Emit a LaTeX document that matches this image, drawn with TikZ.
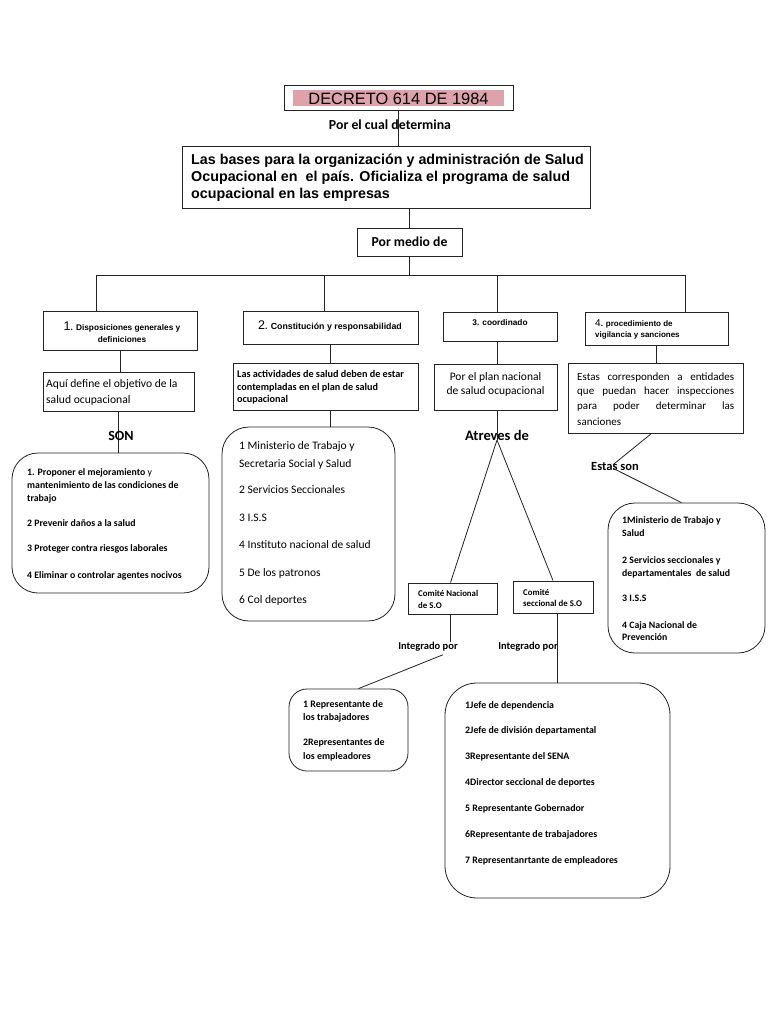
\documentclass[tikz,border=0pt]{standalone}
\usepackage{fontspec}
\setmainfont{Carlito}
\newfontfamily\arial{Liberation Sans}
\usetikzlibrary{fit}
\definecolor{pinkfill}{RGB}{222,163,170}
\definecolor{linec}{RGB}{35,35,35}
\begin{document}
\begin{tikzpicture}[x=1pt,y=-1pt,
  box/.style={draw=linec, line width=0.9pt, rectangle, inner sep=0pt},
  rbox/.style={draw=linec, line width=0.8pt, rectangle, inner sep=0pt, rounded corners=#1},
  conn/.style={draw=linec, line width=0.8pt},
  tl/.style={anchor=base west, inner sep=0pt},
  tc/.style={anchor=base, inner sep=0pt},
  lab/.style={inner sep=0pt, font=\bfseries\fontsize{#1}{#1}\selectfont},
  ttl/.style={anchor=base, inner sep=0pt, font=\arial\bfseries\fontsize{#1}{9}\selectfont},
  ttl/.default=8.3,
  f/.style={font=\fontsize{#1}{#1}\selectfont},
  fb/.style={font=\bfseries\fontsize{#1}{#1}\selectfont}
]
\path[use as bounding box, fill=white] (0,0) rectangle (768,1024);

% ---------- top ----------
\node[box, fit={(284,85)(513,110)}] (dec) {};
\node[fill=pinkfill, inner sep=0pt, fit={(293,90)(504,106)}] (decfill) {};
\node[inner sep=0pt, font=\arial\fontsize{16.4}{16.4}\selectfont] (dectxt) at (398.5,98.5) {DECRETO 614 DE 1984};

\node[box, fit={(182,146)(590,208)}] (bases) {};
\node[tl, font=\arial\bfseries\fontsize{14.3}{14.3}\selectfont] (bt1) at (191,165) {Las bases para la organización y administración de Salud};
\node[tl, font=\arial\bfseries\fontsize{14.3}{14.3}\selectfont] (bt2) at (191,182) {Ocupacional en\ \ el país. Oficializa el programa de salud};
\node[tl, font=\arial\bfseries\fontsize{14.3}{14.3}\selectfont] (bt3) at (191,199) {ocupacional en las empresas};

\draw[conn] (dec.south) -- (dec.south |- bases.north);
\node[lab=13.8] (porcual) at (390,125) {Por el cual determina};

\node[box, fit={(357,228)(462,256)}] (medio) {};
\node[lab=13.7] (mediotxt) at (409.5,242) {Por medio de};
\draw[conn] (medio.north |- bases.south) -- (medio.north);

\coordinate (hL) at (96,275);
\coordinate (h2) at (324,275);
\coordinate (h3) at (497,275);
\coordinate (hR) at (685,275);
\draw[conn] (medio.south) -- (medio.south |- hL);
\draw[conn] (hL) -- (hR);

% ---------- second row ----------
\node[box, fit={(43,311)(197,350)}] (b1) {};
\node[box, fit={(243,311)(418,344)}] (b2) {};
\node[box, fit={(443,312)(557,341)}] (b3) {};
\node[box, fit={(585,312)(728,345)}] (b4) {};
\draw[conn] (hL) -- (hL |- b1.north);
\draw[conn] (h2) -- (h2 |- b2.north);
\draw[conn] (h3) -- (h3 |- b3.north);
\draw[conn] (hR) -- (hR |- b4.north);

\node[ttl] (b1t1) at (122,330) {{\arial\mdseries\fontsize{12.5}{12}\selectfont 1}. Disposiciones generales y};
\node[ttl] (b1t2) at (122,342) {definiciones};
\node[ttl=8.8] (b2t1) at (330,329) {{\arial\mdseries\fontsize{12.5}{12}\selectfont 2}. Constitución y responsabilidad};
\node[ttl=8.3] (b3t1) at (500,325) {3. coordinado};
\node[ttl=8, anchor=base west] (b4t1) at (595,326) {{\arial\mdseries\fontsize{10}{10}\selectfont 4}. procedimiento de};
\node[ttl=8, anchor=base west] (b4t2) at (595,337) {vigilancia y sanciones};

% ---------- third row ----------
\node[box, fit={(43,372)(194,411)}] (a1) {};
\node[box, fit={(233,363)(418,410)}] (a2) {};
\node[box, fit={(434,364)(557,410)}] (a3) {};
\node[box, fit={(568,363)(743,433)}] (a4) {};
\draw[conn] (b1.south) -- (b1.south |- a1.north);
\draw[conn] (b2.south) -- (b2.south |- a2.north);
\draw[conn] (h3 |- b3.south) -- (h3 |- a3.north);
\draw[conn] (b4.south) -- (b4.south |- a4.north);

\node[tl, f=11.6] (a1t1) at (46,387) {Aquí define el objetivo de la};
\node[tl, f=11.6] (a1t2) at (46,403) {salud ocupacional};

\node[tl, fb=10.2] (a2t1) at (237,377.5) {Las actividades de salud deben de estar};
\node[tl, fb=10.2] (a2t2) at (237,390.5) {contempladas en el plan de salud};
\node[tl, fb=10.2] (a2t3) at (237,402.5) {ocupacional};

\node[tc, f=11.5] (a3t1) at (495.5,380) {Por el plan nacional};
\node[tc, f=11.5] (a3t2) at (495.5,394) {de salud ocupacional};

\node[tl, f=11] (a4t1) at (577,380) {\makebox[157pt][s]{Estas corresponden a entidades}};
\node[tl, f=11] (a4t2) at (577,394.5) {\makebox[157pt][s]{que puedan hacer inspecciones}};
\node[tl, f=11] (a4t3) at (577,409.5) {\makebox[157pt][s]{para poder determinar las}};
\node[tl, f=11] (a4t4) at (577,425) {sanciones};

% ---------- left list ----------
\node[rbox=26pt, fit={(12,453)(209,593)}] (r1) {};
\draw[conn] (a1.south) -- (a1.south |- r1.north);
\node[lab=14] (son) at (121,436) {SON};
\node[tl, fb=9.8] (r1t1) at (27,475.5) {1. Proponer el mejoramiento {\mdseries y}};
\node[tl, fb=9.8] (r1t2) at (27,488.5) {mantenimiento de las condiciones de};
\node[tl, fb=9.8] (r1t3) at (27,501.5) {trabajo};
\node[tl, fb=9.8] (r1t4) at (27,526.5) {2 Prevenir daños a la salud};
\node[tl, fb=9.8] (r1t5) at (27,551.5) {3 Proteger contra riesgos laborales};
\node[tl, fb=9.8] (r1t6) at (27,578.5) {4 Eliminar o controlar agentes nocivos};

% ---------- middle list ----------
\node[rbox=27pt, fit={(222,427)(395,621)}] (r2) {};
\draw[conn] (b2.south |- a2.south) -- (b2.south |- r2.north);
\node[tl, f=11.5] (r2t1) at (239,449) {1 Ministerio de Trabajo y};
\node[tl, f=11.5] (r2t2) at (239,467) {Secretaria Social y Salud};
\node[tl, f=11.5] (r2t3) at (239,493) {2 Servicios Seccionales};
\node[tl, f=11.5] (r2t4) at (239,521) {3 I.S.S};
\node[tl, f=11.5] (r2t5) at (239,548) {4 Instituto nacional de salud};
\node[tl, f=11.5] (r2t6) at (239,576) {5 De los patronos};
\node[tl, f=11.5] (r2t7) at (239,603) {6 Col deportes};

% ---------- committees ----------
\coordinate (apex) at (497,440);
\node[lab=14.5] (atreves) at (497,435) {Atreves de};
\draw[conn] (h3 |- a3.south) -- (apex);
\node[box, fit={(408,583)(497,614)}] (c1) {};
\node[box, fit={(513,581)(593,613)}] (c2) {};
\draw[conn] (apex) -- ([xshift=-2pt]c1.north);
\draw[conn] (apex) -- (c2.north);
\node[tl, fb=8.8] (c1t1) at (418,596) {Comité Nacional};
\node[tl, fb=8.8] (c1t2) at (418,608) {de S.O};
\node[tl, fb=8.8] (c2t1) at (523,595) {Comité};
\node[tl, fb=8.8] (c2t2) at (523,606) {seccional de S.O};

\node[lab=10.5] (int1) at (428,647) {Integrado por};
\node[lab=10.5] (int2) at (528,647) {Integrado por};
\draw[conn] ([xshift=-2pt]c1.south) -- ([xshift=-2pt]c1.south |- int1.north);

% ---------- representatives ----------
\node[rbox=18pt, fit={(289,689)(408,771)}] (s1) {};
\draw[conn] ([xshift=-15pt,yshift=-3pt]int1.south east) -- ([xshift=10pt]s1.north);
\node[tl, fb=9.9] (s1t1) at (303,707.5) {1 Representante de};
\node[tl, fb=9.9] (s1t2) at (303,720.5) {los trabajadores};
\node[tl, fb=9.9] (s1t3) at (303,745.5) {2Representantes de};
\node[tl, fb=9.9] (s1t4) at (303,759.5) {los empleadores};

\node[rbox=32pt, fit={(445,683)(670,898)}] (s2) {};
\draw[conn] ([xshift=4pt]c2.south) -- ([xshift=4pt]c2.south |- s2.north);
\node[tl, fb=9.9] (s2t1) at (465,708.5) {1Jefe de dependencia};
\node[tl, fb=9.9] (s2t2) at (465,733.5) {2Jefe de división departamental};
\node[tl, fb=9.9] (s2t3) at (465,759.5) {3Representante del SENA};
\node[tl, fb=9.9] (s2t4) at (465,785.5) {4Director seccional de deportes};
\node[tl, fb=9.9] (s2t5) at (465,811.5) {5 Representante Gobernador};
\node[tl, fb=9.9] (s2t6) at (465,837.5) {6Representante de trabajadores};
\node[tl, fb=9.9] (s2t7) at (465,863.5) {7 Representanrtante de empleadores};

% ---------- right list ----------
\node[lab=12.5] (estas) at (615,466) {Estas son};
\node[rbox=27pt, fit={(608,503)(765,653)}] (r3) {};
\draw[conn] ([xshift=-4pt]a4.south) -- ([xshift=-2pt,yshift=-3pt]estas.north);
\draw[conn] ([xshift=-2pt,yshift=2pt]estas.south) -- ([xshift=-5pt]r3.north);
\node[tl, fb=9.8] (r3t1) at (622,523.5) {1Ministerio de Trabajo y};
\node[tl, fb=9.8] (r3t2) at (622,536.5) {Salud};
\node[tl, fb=9.8] (r3t3) at (622,563.5) {2 Servicios seccionales y};
\node[tl, fb=9.8] (r3t4) at (622,576.5) {departamentales\ \ de salud};
\node[tl, fb=9.8] (r3t5) at (622,601.5) {3 I.S.S};
\node[tl, fb=9.8] (r3t6) at (622,628.5) {4 Caja Nacional de};
\node[tl, fb=9.8] (r3t7) at (622,640.5) {Prevención};
\end{tikzpicture}
\end{document}
